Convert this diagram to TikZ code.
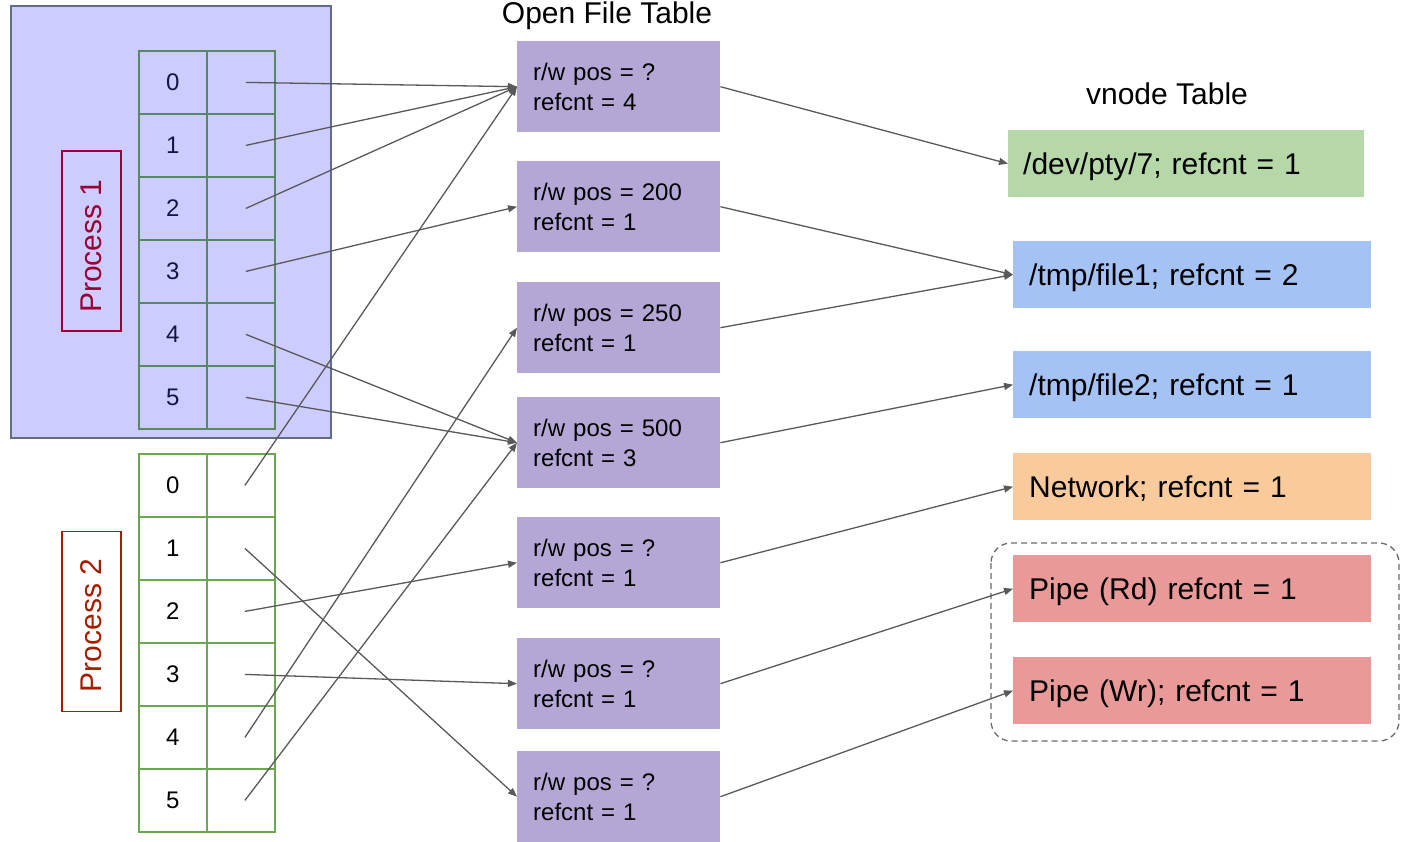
\documentclass[tikz,border=0pt]{standalone}
\usepackage{fontspec}
\setmainfont{Liberation Sans}
\usepackage{tikz}
\usetikzlibrary{arrows.meta, positioning}

\definecolor{procblue}{RGB}{204,204,255}
\definecolor{procedge}{RGB}{96,110,135}
\definecolor{cellgreen}{RGB}{86,136,100}
\definecolor{cellgreentwo}{RGB}{106,168,79}
\definecolor{labelone}{RGB}{153,0,51}
\definecolor{labeltwo}{RGB}{166,28,0}
\definecolor{digitnavy}{RGB}{20,20,70}
\definecolor{oftpurple}{RGB}{180,167,214}
\definecolor{vgreen}{RGB}{182,215,168}
\definecolor{vblue}{RGB}{164,194,244}
\definecolor{vorange}{RGB}{249,203,156}
\definecolor{vred}{RGB}{234,153,153}
\definecolor{linkgray}{RGB}{89,89,89}

\begin{document}
\begin{tikzpicture}[x=1pt, y=-1pt,
  cell/.style={draw=#1, line width=1.8pt, minimum width=68pt, minimum height=63pt,
    inner sep=0pt, anchor=north west, font=\fontsize{24}{28}\selectfont},
  proclabel/.style={draw=#1, text=#1, line width=1.5pt, rotate=90, minimum width=180pt,
    minimum height=59pt, inner sep=0pt, font=\fontsize{30}{34}\selectfont},
  oftbox/.style={fill=oftpurple, minimum height=91pt, text width=171pt, inner xsep=16pt,
    inner ysep=0pt, align=left, anchor=north west, font=\fontsize{24}{30}\selectfont},
  vbox/.style={fill=#1, minimum height=67pt, text width=326pt, inner xsep=16pt,
    inner ysep=0pt, text height=21.5pt, text depth=0pt, align=left, anchor=north west,
    font=\fontsize{30}{34}\selectfont},
  title/.style={anchor=base, font=\fontsize{30}{34}\selectfont},
  link/.style={draw=linkgray, line width=1.3pt, -{Triangle[length=9pt, width=7pt]}}]

  \useasboundingbox (0,0) rectangle (1402,841);

  % Process 1 frame
  \node[draw=procedge, fill=procblue, line width=2pt, minimum width=320pt,
    minimum height=432pt, inner sep=0pt, anchor=north west] (proc1) at (10,5) {};

  % descriptor tables
  \foreach \i in {0,...,5} {
    \node[cell=cellgreen, text=digitnavy] (p1n\i) at (138,50+63*\i) {\i};
    \node[cell=cellgreen] (p1f\i) at (206,50+63*\i) {};
    \node[cell=cellgreentwo] (p2n\i) at (138,453+63*\i) {\i};
    \node[cell=cellgreentwo] (p2f\i) at (206,453+63*\i) {};
    \coordinate (p1s\i) at ([xshift=5pt]p1f\i.center);
    \coordinate (p2s\i) at ([xshift=4pt]p2f\i.center);
  }

  % process labels
  \node[proclabel=labelone] (lab1) at (91.5,241) {\hspace*{-10pt}Process 1};
  \node[proclabel=labeltwo] (lab2) at (91.5,621.5) {\hspace*{-8pt}Process 2};

  % open file table
  \node[title] (ofttitle) at (607,23) {Open File Table};
  \node[oftbox] (oft1) at (517,41) {r/w pos = ?\\refcnt = 4};
  \node[oftbox] (oft2) at (517,161) {r/w pos = 200\\refcnt = 1};
  \node[oftbox] (oft3) at (517,282) {r/w pos = 250\\refcnt = 1};
  \node[oftbox] (oft4) at (517,397) {r/w pos = 500\\refcnt = 3};
  \node[oftbox] (oft5) at (517,517) {r/w pos = ?\\refcnt = 1};
  \node[oftbox] (oft6) at (517,638) {r/w pos = ?\\refcnt = 1};
  \node[oftbox] (oft7) at (517,751) {r/w pos = ?\\refcnt = 1};

  % vnode table
  \node[title] (vtitle) at (1167,104) {vnode Table};
  \node[vbox=vgreen, inner xsep=15pt] (v1) at (1008,130) {/dev/pty/7; refcnt = 1};
  \node[vbox=vblue] (v2) at (1013,241) {/tmp/file1; refcnt = 2};
  \node[vbox=vblue] (v3) at (1013,351) {/tmp/file2; refcnt = 1};
  \node[vbox=vorange] (v4) at (1013,453) {Network; refcnt = 1};
  \node[vbox=vred] (v5) at (1013,555) {Pipe (Rd) refcnt = 1};
  \node[vbox=vred] (v6) at (1013,657) {Pipe (Wr); refcnt = 1};

  % pipe group
  \draw[draw=linkgray!90, line width=1.3pt, dash pattern=on 6pt off 4pt,
    rounded corners=20pt] (991,543) rectangle (1399,741);

  % process 1 descriptors
  \draw[link] (p1s0) -- (oft1.west);
  \draw[link] (p1s1) -- (oft1.west);
  \draw[link] (p1s2) -- (oft1.west);
  \draw[link] (p1s3) -- (oft2.west);
  \draw[link] (p1s4) -- (oft4.west);
  \draw[link] (p1s5) -- (oft4.west);

  % process 2 descriptors
  \draw[link] (p2s0) -- (oft1.west);
  \draw[link] (p2s1) -- (oft7.west);
  \draw[link] (p2s2) -- (oft5.west);
  \draw[link] (p2s3) -- (oft6.west);
  \draw[link] (p2s4) -- (oft3.west);
  \draw[link] (p2s5) -- (oft4.west);

  % open files to vnodes
  \draw[link] (oft1.east) -- (v1.west);
  \draw[link] (oft2.east) -- (v2.west);
  \draw[link] (oft3.east) -- (v2.west);
  \draw[link] (oft4.east) -- (v3.west);
  \draw[link] (oft5.east) -- (v4.west);
  \draw[link] (oft6.east) -- (v5.west);
  \draw[link] (oft7.east) -- (v6.west);
\end{tikzpicture}
\end{document}
